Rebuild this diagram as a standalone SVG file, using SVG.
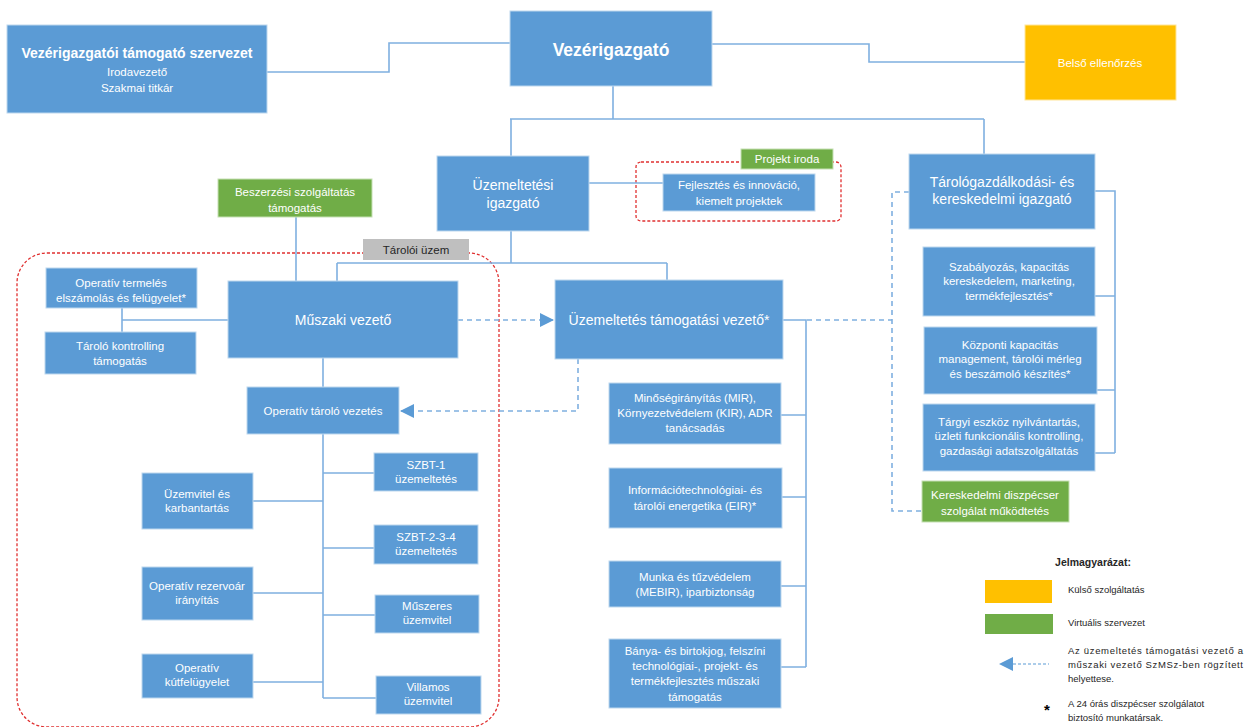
<svg xmlns="http://www.w3.org/2000/svg" width="1260" height="727" viewBox="0 0 1260 727">
<defs>
<style>
.box{fill:#5B9BD5;stroke:#BDD7EE;stroke-width:1}
.grn{fill:#70AD47;stroke:#C5E0B4;stroke-width:1}
.org{fill:#FFC000;stroke:#FFE699;stroke-width:1}
.gry{fill:#BFBFBF}
text{font-family:"Liberation Sans",Arial,sans-serif;fill:#FFFFFF;text-anchor:middle}
.t11{font-size:11.5px}
.t14{font-size:14px}
.dk{fill:#262626}
.lg{font-size:9.5px;fill:#262626;text-anchor:start}
.ln{fill:none;stroke:#7FB0E0;stroke-width:1.6}
.dl{fill:none;stroke:#7FB0E0;stroke-width:1.6;stroke-dasharray:5 4}
.red{fill:none;stroke:#E03030;stroke-width:1.3;stroke-dasharray:3 2}
</style>
<marker id="arrL" markerWidth="14" markerHeight="14" refX="13" refY="7" orient="auto" markerUnits="userSpaceOnUse" viewBox="0 0 14 14">
<path d="M0,0 L14,7 L0,14 Z" fill="#5B9BD5"/>
</marker>
</defs>
<rect width="1260" height="727" fill="#FFFFFF"/>

<!-- frames -->
<rect class="red" x="17" y="253" width="482" height="474" rx="30"/>
<rect class="red" x="636" y="162" width="205" height="59" rx="5"/>

<g id="connectors">
<path class="ln" d="M267,72 H389 V43 H510"/>
<path class="ln" d="M712,44 H869 V62 H1025"/>
<path class="ln" d="M613,86 V119 M510,119 H984 M511,119 V156 M984,119 V154"/>
<path class="ln" d="M589,183 H663"/>
<path class="ln" d="M511,231 V263 M337,263 H667 M337,263 V281 M667,263 V280"/>
<path class="ln" d="M296,217 V281"/>
<path class="ln" d="M122,308 V332 M122,320 H228"/>
<path class="ln" d="M323,358 V387"/>
<path class="ln" d="M323,434 V698 M253,501 H323 M253,593 H323 M253,682 H323 M323,473 H374 M323,548 H374 M323,615 H375 M323,698 H376"/>
<path class="ln" d="M783,320 H806 V667 M781,415 H806 M782,497 H806 M781,586 H806 M781,667 H806"/>
<path class="ln" d="M1095,191 H1115 V453 M1095,296 H1115 M1097,390 H1115 M1095,453 H1115"/>
<path class="dl" d="M458,320 H553" marker-end="url(#arrL)"/>
<path class="dl" d="M578,359 V411 H401" marker-end="url(#arrL)"/>
<path class="dl" d="M807,320 H892 M909,192 H892 V511 H922"/>
</g>

<g id="n-vtsz">
<rect class="box" x="7" y="25" width="260" height="88"/>
<text x="137" y="58" font-size="14" font-weight="bold">Vezérigazgatói támogató szervezet</text>
<text class="t11" x="137" y="76">Irodavezető</text>
<text class="t11" x="137" y="92">Szakmai titkár</text>
</g>
<g id="n-vg">
<rect class="box" x="510" y="11" width="202" height="75"/>
<text x="611" y="56" font-size="17.5" font-weight="bold">Vezérigazgató</text>
</g>
<g id="n-belso">
<rect class="org" x="1025" y="25" width="151" height="75"/>
<text class="t11" x="1100" y="67">Belső ellenőrzés</text>
</g>
<g id="n-uzig">
<rect class="box" x="437" y="156" width="152" height="75"/>
<text class="t14" x="513" y="190">Üzemeltetési</text>
<text class="t14" x="513" y="208">igazgató</text>
</g>
<g id="n-projekt">
<rect class="grn" x="741" y="149" width="92" height="20"/>
<text class="t11" x="787" y="163">Projekt iroda</text>
</g>
<g id="n-fejl">
<rect class="box" x="663" y="174" width="152" height="37"/>
<text class="t11" x="739" y="189">Fejlesztés és innováció,</text>
<text class="t11" x="739" y="205">kiemelt projektek</text>
</g>
<g id="n-targ">
<rect class="box" x="909" y="154" width="186" height="75"/>
<text class="t14" x="1002" y="187">Tárológazdálkodási- és</text>
<text class="t14" x="1002" y="204">kereskedelmi  igazgató</text>
</g>
<g id="n-besz">
<rect class="grn" x="218" y="179" width="154" height="38"/>
<text class="t11" x="295" y="196">Beszerzési szolgáltatás</text>
<text class="t11" x="295" y="212">támogatás</text>
</g>
<g id="n-taroloi">
<rect class="gry" x="363" y="239" width="106" height="21"/>
<text class="t11 dk" x="416" y="254">Tárolói üzem</text>
</g>
<g id="n-optermeles">
<rect class="box" x="46" y="268" width="151" height="40"/>
<text class="t11" x="121" y="287">Operatív termelés</text>
<text class="t11" x="121" y="302">elszámolás és felügyelet*</text>
</g>
<g id="n-kontrolling">
<rect class="box" x="45" y="332" width="151" height="42"/>
<text class="t11" x="120" y="350">Tároló kontrolling</text>
<text class="t11" x="120" y="365">támogatás</text>
</g>
<g id="n-muszaki">
<rect class="box" x="228" y="281" width="230" height="77"/>
<text class="t14" x="343" y="325">Műszaki vezető</text>
</g>
<g id="n-uztam">
<rect class="box" x="555" y="280" width="228" height="79"/>
<text class="t14" x="669" y="325">Üzemeltetés támogatási vezető*</text>
</g>
<g id="n-optarolo">
<rect class="box" x="247" y="387" width="152" height="47"/>
<text class="t11" x="323" y="415">Operatív tároló vezetés</text>
</g>
<g id="n-uzemvitel">
<rect class="box" x="142" y="473" width="111" height="56"/>
<text class="t11" x="197" y="498">Üzemvitel  és</text>
<text class="t11" x="197" y="512">karbantartás</text>
</g>
<g id="n-rezervoar">
<rect class="box" x="142" y="567" width="111" height="53"/>
<text class="t11" x="197" y="590">Operatív rezervoár</text>
<text class="t11" x="197" y="604">irányítás</text>
</g>
<g id="n-kut">
<rect class="box" x="142" y="654" width="111" height="44"/>
<text class="t11" x="197" y="672">Operatív</text>
<text class="t11" x="197" y="686">kútfelügyelet</text>
</g>
<g id="n-szbt1">
<rect class="box" x="374" y="453" width="104" height="38"/>
<text class="t11" x="426" y="469">SZBT-1</text>
<text class="t11" x="426" y="483">üzemeltetés</text>
</g>
<g id="n-szbt234">
<rect class="box" x="374" y="525" width="104" height="39"/>
<text class="t11" x="426" y="541">SZBT-2-3-4</text>
<text class="t11" x="426" y="555">üzemeltetés</text>
</g>
<g id="n-muszeres">
<rect class="box" x="375" y="595" width="104" height="38"/>
<text class="t11" x="427" y="610">Műszeres</text>
<text class="t11" x="427" y="624">üzemvitel</text>
</g>
<g id="n-villamos">
<rect class="box" x="376" y="676" width="105" height="38"/>
<text class="t11" x="428" y="691">Villamos</text>
<text class="t11" x="428" y="705">üzemvitel</text>
</g>
<g id="n-minoseg">
<rect class="box" x="609" y="383" width="172" height="61"/>
<text class="t11" x="695" y="402">Minőségirányítás (MIR),</text>
<text class="t11" x="695" y="417">Környezetvédelem  (KIR), ADR</text>
<text class="t11" x="695" y="432">tanácsadás</text>
</g>
<g id="n-info">
<rect class="box" x="609" y="468" width="173" height="60"/>
<text class="t11" x="695" y="494">Információtechnológiai- és</text>
<text class="t11" x="695" y="510">tárolói energetika (EIR)*</text>
</g>
<g id="n-munka">
<rect class="box" x="609" y="561" width="172" height="46"/>
<text class="t11" x="695" y="581">Munka és tűzvédelem</text>
<text class="t11" x="695" y="596">(MEBIR),  iparbiztonság</text>
</g>
<g id="n-banya">
<rect class="box" x="609" y="639" width="172" height="69"/>
<text class="t11" x="695" y="655">Bánya- és birtokjog, felszíni</text>
<text class="t11" x="695" y="670">technológiai-, projekt- és</text>
<text class="t11" x="695" y="685">termékfejlesztés  műszaki</text>
<text class="t11" x="695" y="701">támogatás</text>
</g>
<g id="n-szabalyozas">
<rect class="box" x="923" y="247" width="172" height="69"/>
<text class="t11" x="1009" y="271">Szabályozás, kapacitás</text>
<text class="t11" x="1009" y="285">kereskedelem,  marketing,</text>
<text class="t11" x="1009" y="300">termékfejlesztés*</text>
</g>
<g id="n-kozponti">
<rect class="box" x="924" y="327" width="173" height="67"/>
<text class="t11" x="1010" y="349">Központi kapacitás</text>
<text class="t11" x="1010" y="363">management,  tárolói mérleg</text>
<text class="t11" x="1010" y="378">és beszámoló készítés*</text>
</g>
<g id="n-targyi">
<rect class="box" x="923" y="404" width="172" height="67"/>
<text class="t11" x="1009" y="426">Tárgyi eszköz nyilvántartás,</text>
<text class="t11" x="1009" y="440">üzleti funkcionális kontrolling,</text>
<text class="t11" x="1009" y="455">gazdasági adatszolgáltatás</text>
</g>
<g id="n-keresk">
<rect class="grn" x="922" y="481" width="147" height="41"/>
<text class="t11" x="995" y="499">Kereskedelmi diszpécser</text>
<text class="t11" x="995" y="515">szolgálat működtetés</text>
</g>

<g id="legend">
<text x="1093" y="566" font-size="10.5" font-weight="bold" class="dk">Jelmagyarázat:</text>
<rect x="985" y="580" width="67" height="23" fill="#FFC000"/>
<text class="lg" x="1068" y="593">Külső szolgáltatás</text>
<rect x="985" y="614" width="68" height="20" fill="#70AD47"/>
<text class="lg" x="1068" y="626">Virtuális szervezet</text>
<path d="M1013,664 H1049" fill="none" stroke="#5B9BD5" stroke-width="1" stroke-dasharray="3 2"/>
<path d="M999,664 L1013,657 L1013,671 Z" fill="#5B9BD5"/>
<text class="lg" x="1068" y="654" textLength="175" lengthAdjust="spacing">Az üzemeltetés támogatási vezető a</text>
<text class="lg" x="1068" y="668" textLength="175" lengthAdjust="spacing">műszaki vezető SzMSz-ben rögzített</text>
<text class="lg" x="1068" y="682">helyettese.</text>
<text x="1047" y="715" font-size="15" font-weight="bold" style="fill:#000000">*</text>
<text class="lg" x="1068" y="707">A 24 órás diszpécser szolgálatot</text>
<text class="lg" x="1068" y="721">biztosító munkatársak.</text>
</g>
</svg>
